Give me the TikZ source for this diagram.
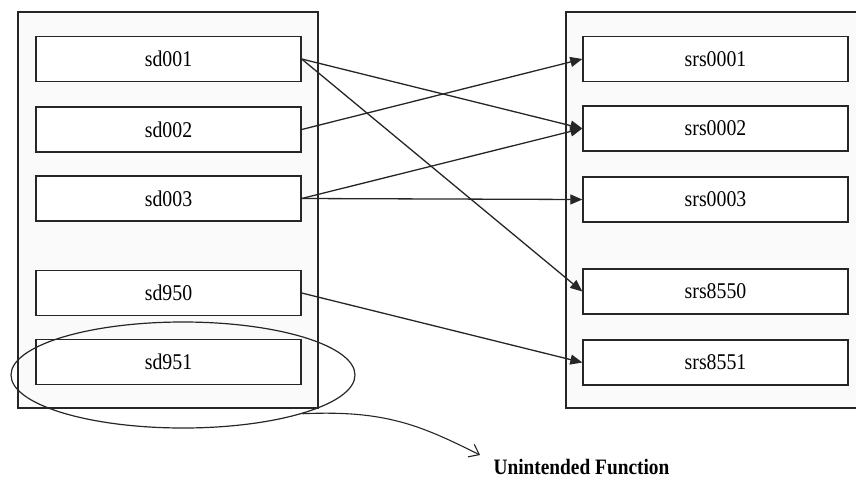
\documentclass[tikz,border=0pt]{standalone}
\usepackage{fontspec}
\setmainfont{Liberation Serif}[FakeStretch=0.88]
\usetikzlibrary{arrows.meta,shapes.geometric}
\begin{document}
\begin{tikzpicture}[x=1pt,y=-1pt,
  panel/.style={draw=black!85,line width=1.3pt,fill=black!2},
  item/.style={draw=black!85,line width=1.4pt,fill=white,minimum width=265pt,
    minimum height=45pt,inner sep=0pt,font=\fontsize{22.5}{24}\selectfont},
  link/.style={line width=1.3pt,draw=black!85,-{Triangle[length=12pt,width=10pt]}},
]
\useasboundingbox (0,0) rectangle (856,488);
% two outer panels
\draw[panel] (18,12) rectangle (318,408);
\draw[panel] (566,12) rectangle (860,408);
% left column
\node[item] (sd001) at (168.5,59) {sd001};
\node[item] (sd002) at (168.5,129.5) {sd002};
\node[item] (sd003) at (168.5,198.5) {sd003};
\node[item] (sd950) at (168.5,293) {sd950};
\node[item] (sd951) at (168.5,362) {sd951};
% right column
\node[item] (srs0001) at (715.5,59) {srs0001};
\node[item] (srs0002) at (715.5,128.5) {srs0002};
\node[item] (srs0003) at (715.5,199.5) {srs0003};
\node[item] (srs8550) at (715.5,291.5) {srs8550};
\node[item] (srs8551) at (715.5,362.5) {srs8551};
% mappings
\draw[link] (sd001.east) -- (srs0002.west);
\draw[link] (sd001.east) -- (srs8550.west);
\draw[link] (sd002.east) -- (srs0001.west);
\draw[link] (sd003.east) -- (srs0002.west);
\draw[link] (sd003.east) -- (srs0003.west);
\draw[link] (sd950.east) -- (srs8551.west);
% highlighted unmapped item
\node[ellipse,draw=black!85,line width=1.2pt,minimum width=344pt,minimum height=106pt,inner sep=0pt] (ring) at (183,375) {};
\node[font=\fontsize{22}{24}\selectfont\bfseries,anchor=west] (unint) at (490,467) {Unintended Function};
\coordinate (tip) at (480,455);
\draw[line width=1.1pt,draw=black!85,-{Straight Barb[length=9pt,width=14pt]}]
  (ring.-18) .. controls (385,410) and (420,425) .. (tip);
\end{tikzpicture}
\end{document}
